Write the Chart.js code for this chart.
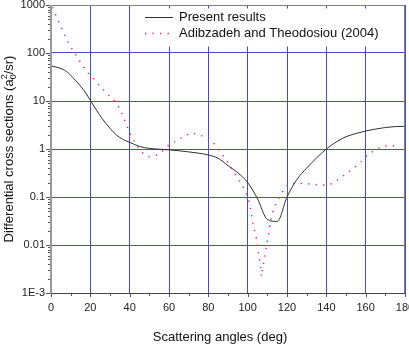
<!DOCTYPE html>
<html><head><meta charset="utf-8">
<script src="https://cdn.jsdelivr.net/npm/chart.js@4.4.0/dist/chart.umd.min.js"></script>
<style>html,body{margin:0;padding:0;background:#fff;}</style>
</head><body>
<canvas id="c" width="409" height="346" style="display:block"></canvas>
<script>
// ---- data ----
const seriesNames = ['Present results', 'Adibzadeh and Theodosiou (2004)'];
const presentAngles = [0,4,8,11,15,18,20,23,26,30,33,37,40,45,50,55,60,65,70,75,80,85,90,95,100,105,110,115,120,125,130,135,140,145,150,155,160,165,170,175,180];
const presentValues = [54,49,41,31,20.5,14,10.3,6.6,4.3,2.7,2.0,1.55,1.38,1.13,1.03,0.99,0.96,0.92,0.87,0.82,0.75,0.64,0.45,0.32,0.2,0.092,0.034,0.031,0.1,0.23,0.40,0.65,1.0,1.4,1.8,2.1,2.37,2.6,2.8,2.93,2.97];
const adibAngles = [0.8,2.5,4.2,5.8,7.5,9.2,11.7,13.9,16.1,19,22.4,25.6,29.1,32.9,35.1,36.8,38.1,39.7,41.2,43.7,46.4,49.8,53.5,57,60,63.9,67.3,71.2,74.7,78.5,81.9,84.8,87.3,90,92.4,94.6,96.8,99,100.3,101.2,101.8,102.4,103.2,104.1,104.7,105.2,105.7,106.4,106.8,107,107.6,108.3,109,109.5,110.2,110.8,111.3,112,112.9,114.5,116.4,118.5,121,124.6,128.3,131.8,135.6,139.3,143,146.6,150.3,153.9,157.8,161.3,164.9,168.6,172.3,176];
const adibValues = [900,605,427,300,212,151,106,76,54,38,27,19,13.5,9.5,6.7,4.7,3.4,2.37,1.7,1.18,0.84,0.69,0.74,0.92,1.21,1.49,1.8,2.18,1.99,1.78,1.47,1.02,0.74,0.52,0.365,0.26,0.187,0.129,0.093,0.065,0.047,0.032,0.023,0.016,0.0115,0.0081,0.0058,0.0041,0.0026,0.0022,0.0032,0.0047,0.0065,0.0093,0.013,0.018,0.026,0.037,0.052,0.074,0.103,0.147,0.19,0.19,0.19,0.187,0.18,0.178,0.19,0.24,0.31,0.40,0.55,0.77,0.95,1.14,1.17,1.17];
const xTickValues = [0,20,40,60,80,100,120,140,160,180];
const xMinorStep = 10;
const yTickValues = [0.001,0.01,0.1,1,10,100,1000];
const yTickLabels = ['1E-3','0.01','0.1','1','10','100','1000'];
const xTitle = 'Scattering angles (deg)';
const yTitleMain = 'Differential cross sections (a';
const yTitleSup = '2';
const yTitleSub = '0';
const yTitleEnd = '/sr)';

// ---- styles ----
const FONT = '"Liberation Sans", Arial, sans-serif';
const gridColor = 'rgb(75,75,210)';
const solidColor = '#303030';
const dotColor = 'rgb(232,45,85)';
const dotDash = [1.3, 6.2];

const framePlugin = {
  id: 'frame',
  afterDraw(chart) {
    const ctx = chart.ctx;
    const a = chart.chartArea;
    const xs = chart.scales.x, ys = chart.scales.y;
    ctx.save();
    // minor/major ticks
    ctx.strokeStyle = '#555';
    ctx.lineWidth = 1;
    ctx.beginPath();
    for (let v = xs.min; v <= xs.max + 1e-9; v += xMinorStep) {
      const px = Math.round(xs.getPixelForValue(v)) + 0.5;
      const major = xTickValues.includes(v);
      ctx.moveTo(px, a.bottom);
      ctx.lineTo(px, a.bottom + (major ? 4 : 3));
    }
    for (let i = 0; i < yTickValues.length; i++) {
      const d = yTickValues[i];
      const py = Math.round(ys.getPixelForValue(d)) + 0.5;
      ctx.moveTo(a.left, py); ctx.lineTo(a.left - 5, py);
      if (i < yTickValues.length - 1) {
        for (let k = 2; k <= 9; k++) {
          const pm = Math.round(ys.getPixelForValue(d * k)) + 0.5;
          ctx.moveTo(a.left, pm); ctx.lineTo(a.left - 3, pm);
        }
      }
    }
    ctx.stroke();
    // frame
    ctx.strokeStyle = '#808080';
    ctx.lineWidth = 1;
    ctx.beginPath();
    ctx.moveTo(a.left, Math.round(a.top) + 0.5); ctx.lineTo(a.right, Math.round(a.top) + 0.5);
    ctx.moveTo(Math.round(a.right) - 0.5, a.top); ctx.lineTo(Math.round(a.right) - 0.5, a.bottom);
    ctx.stroke();
    ctx.strokeStyle = '#444';
    ctx.beginPath();
    ctx.moveTo(a.left, Math.round(a.bottom) + 0.5); ctx.lineTo(a.right, Math.round(a.bottom) + 0.5);
    ctx.stroke();
    ctx.strokeStyle = '#999';
    ctx.lineWidth = 2;
    ctx.beginPath();
    ctx.moveTo(Math.round(a.left), a.top); ctx.lineTo(Math.round(a.left), a.bottom + 0.5);
    ctx.stroke();

    // legend
    ctx.fillStyle = '#fff';
    ctx.fillRect(140, 8.5, a.right - 1 - 140, 38);
    ctx.lineWidth = 1;
    ctx.strokeStyle = solidColor;
    ctx.beginPath(); ctx.moveTo(145, 17.5); ctx.lineTo(173, 17.5); ctx.stroke();
    ctx.strokeStyle = dotColor;
    ctx.lineWidth = 1.5;
    ctx.setLineDash(dotDash);
    ctx.beginPath(); ctx.moveTo(145, 33.5); ctx.lineTo(174, 33.5); ctx.stroke();
    ctx.setLineDash([]);
    ctx.fillStyle = '#111';
    ctx.font = '13px ' + FONT;
    ctx.textBaseline = 'middle';
    ctx.textAlign = 'left';
    ctx.fillText(seriesNames[0], 179, 17.5);
    ctx.fillText(seriesNames[1], 179, 33.5);

    // x title
    ctx.textAlign = 'center';
    ctx.fillText(xTitle, 220, 337);

    // y title (rotated, with stacked sub/superscript)
    ctx.save();
    ctx.translate(13, 149);
    ctx.rotate(-Math.PI / 2);
    ctx.textAlign = 'left';
    ctx.textBaseline = 'alphabetic';
    const big = '13px ' + FONT, small = '9px ' + FONT;
    ctx.font = big;
    const w1 = ctx.measureText(yTitleMain).width;
    const w3 = ctx.measureText(yTitleEnd).width;
    ctx.font = small;
    const w2 = Math.max(ctx.measureText(yTitleSup).width, ctx.measureText(yTitleSub).width);
    let x = -(w1 + w2 + w3) / 2;
    ctx.font = big;
    ctx.fillText(yTitleMain, x, 0);
    x += w1;
    ctx.font = small;
    ctx.fillText(yTitleSup, x, -6);
    ctx.fillText(yTitleSub, x, 3);
    x += w2;
    ctx.font = big;
    ctx.fillText(yTitleEnd, x, 0);
    ctx.restore();

    ctx.restore();
  }
};

new Chart(document.getElementById('c').getContext('2d'), {
  type: 'line',
  data: {
    datasets: [
      { label: seriesNames[0], data: presentAngles.map((a, i) => ({ x: a, y: presentValues[i] })),
        borderColor: solidColor, borderWidth: 1, pointRadius: 0, cubicInterpolationMode: 'monotone', fill: false },
      { label: seriesNames[1], data: adibAngles.map((a, i) => ({ x: a, y: adibValues[i] })),
        borderColor: dotColor, borderWidth: 1.5, borderDash: dotDash, pointRadius: 0, tension: 0, fill: false }
    ]
  },
  options: {
    responsive: false, animation: false, devicePixelRatio: 1,
    layout: { padding: { left: 0, top: 5, right: 4, bottom: 0 } },
    plugins: { legend: { display: false }, tooltip: { enabled: false }, title: { display: false } },
    scales: {
      x: {
        type: 'linear', min: 0, max: 180,
        afterFit: s => { s.height = 53; s.paddingLeft = 0; s.paddingRight = 0; },
        afterBuildTicks: s => { s.ticks = xTickValues.map(v => ({ value: v })); },
        ticks: { padding: 8, font: { family: FONT, size: 11 }, color: '#222', maxRotation: 0, autoSkip: false },
        grid: { color: gridColor, lineWidth: 1, drawTicks: false },
        border: { display: false }
      },
      y: {
        type: 'logarithmic', min: 0.001, max: 1000,
        afterFit: s => { s.width = 51; s.paddingTop = 0; s.paddingBottom = 0; },
        afterBuildTicks: s => { s.ticks = yTickValues.map(v => ({ value: v })); },
        ticks: { padding: 6, font: { family: FONT, size: 11 }, color: '#222', autoSkip: false,
          callback: (v, i) => yTickLabels[i] },
        grid: { color: gridColor, lineWidth: 1, drawTicks: false },
        border: { display: false }
      }
    }
  },
  plugins: [framePlugin]
});
</script>
</body></html>
